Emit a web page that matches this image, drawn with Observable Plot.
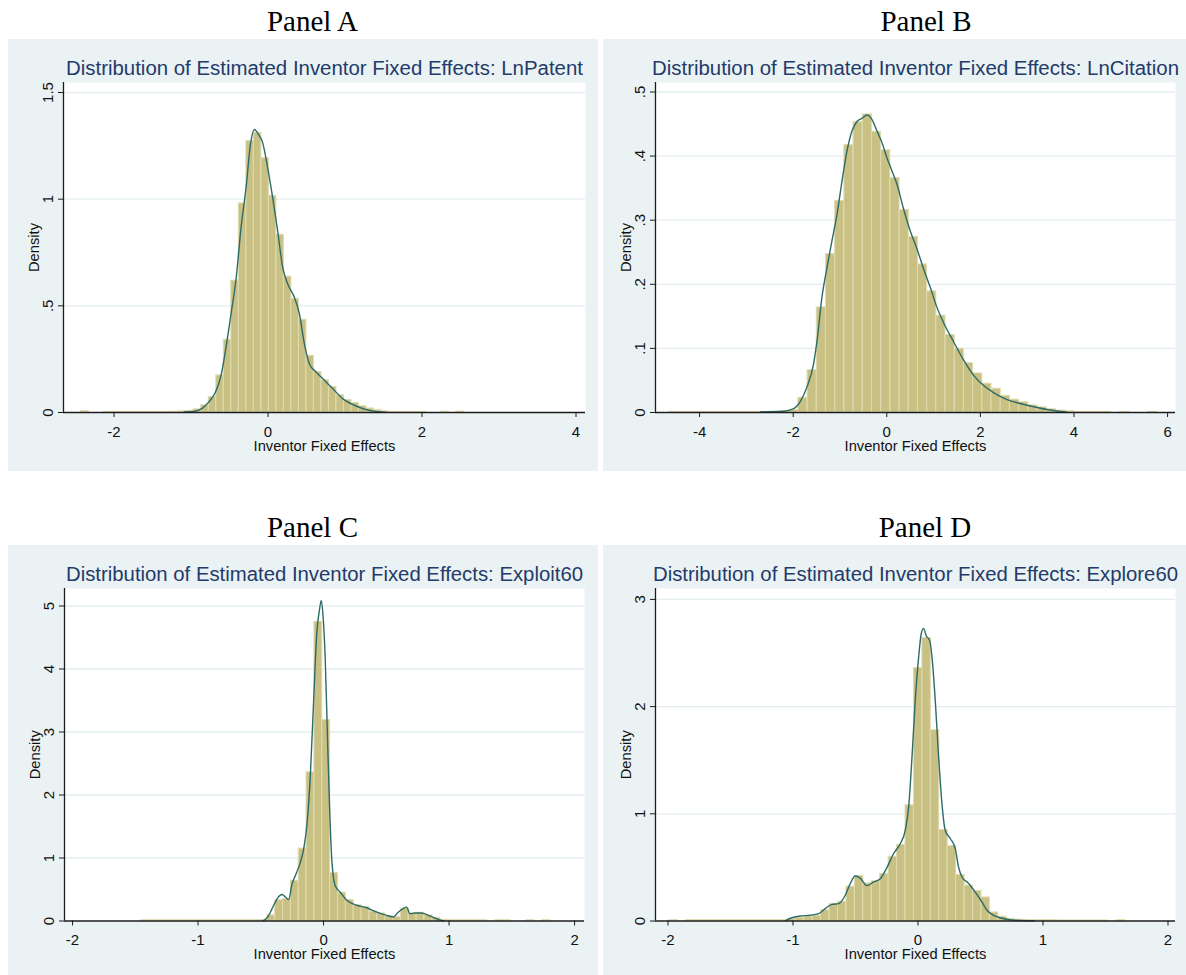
<!DOCTYPE html>
<html><head><meta charset="utf-8">
<script src="https://cdn.jsdelivr.net/npm/d3@7"></script>
<script src="https://cdn.jsdelivr.net/npm/@observablehq/plot@0.6"></script>
<style>
html,body{margin:0;padding:0;background:#fff;}
#root{position:relative;width:1186px;height:975px;overflow:hidden;}
.panel{position:absolute;background:#eaf2f3;}
.panel svg{display:block;overflow:visible;}
#heads{position:absolute;left:0;top:0;}
</style></head><body><div id="root"></div>
<script>
// ---------------- DATA ----------------
const panelHeadings = ["Panel A", "Panel B", "Panel C", "Panel D"];
const chartTitles = [
  "Distribution of Estimated Inventor Fixed Effects: LnPatent",
  "Distribution of Estimated Inventor Fixed Effects: LnCitation",
  "Distribution of Estimated Inventor Fixed Effects: Exploit60",
  "Distribution of Estimated Inventor Fixed Effects: Explore60"
];
const xAxisTitle = "Inventor Fixed Effects";
const yAxisTitle = "Density";

// Panel A: LnPatent
const patentBinStart = -2.4265, patentBinWidth = 0.0975;
const patentHeights = [0.006,0,0,0.003,0.003,0.003,0.003,0.003,0.003,0.003,0.003,0.003,0.004,0.005,0.008,0.015,
  0.034,0.073,0.174,0.341,0.618,0.980,1.273,1.311,1.192,1.016,0.833,0.637,0.533,0.435,0.266,0.190,0.151,0.120,
  0.081,0.058,0.045,0.030,0.019,0.011,0.006,0.003,0.003,0.003,0.003,0.002,0,0,0.004,0,0.004];
const patentCurveX = [-1.09,-0.95,-0.855,-0.768,-0.68,-0.61,-0.545,-0.48,-0.415,-0.35,-0.285,-0.228,-0.176,-0.125,-0.07,-0.005,
  0.06,0.125,0.19,0.255,0.342,0.407,0.472,0.537,0.624,0.732,0.84,0.97,1.12,1.27,1.42,1.52];
const patentCurveY = [0.002,0.006,0.019,0.05,0.097,0.174,0.307,0.463,0.626,0.868,1.055,1.257,1.327,1.304,1.265,1.148,
  1.008,0.852,0.681,0.603,0.540,0.463,0.322,0.229,0.19,0.151,0.112,0.065,0.034,0.014,0.004,0.001];
const patentXTicks = [-2, 0, 2, 4];
const patentYTicks = [0, 0.5, 1, 1.5];

// Panel B: LnCitation
const citationBinStart = -4.64, citationBinWidth = 0.1965;
const citationHeights = [0.001,0.001,0.001,0.001,0.001,0.001,0.001,0.001,0.001,0.001,0.001,0.001,0.002,0.004,
  0.023,0.066,0.164,0.247,0.330,0.417,0.453,0.465,0.438,0.409,0.366,0.316,0.274,0.231,0.189,0.151,0.121,0.0995,
  0.077,0.061,0.045,0.037,0.026,0.020,0.016,0.011,0.008,0.005,0.003,0.002,0.001,0.001,0.001,0.001,0,0.001,0,0,0.001];
const citationCurveX = [-2.70,-2.205,-1.99,-1.85,-1.705,-1.564,-1.49,-1.385,-1.278,-1.171,-1.064,-0.957,-0.85,-0.744,-0.637,
  -0.53,-0.423,-0.316,-0.209,-0.103,0.004,0.11,0.218,0.36,0.502,0.645,0.787,0.93,1.072,1.214,1.43,1.64,1.855,2.07,2.28,
  2.57,2.85,3.14,3.42,3.71,3.85];
const citationCurveY = [0.001,0.002,0.006,0.017,0.04,0.076,0.112,0.18,0.226,0.268,0.309,0.361,0.408,0.439,0.454,
  0.459,0.464,0.457,0.439,0.421,0.397,0.377,0.356,0.317,0.283,0.255,0.224,0.195,0.164,0.140,0.110,0.082,0.058,0.042,0.031,
  0.020,0.014,0.009,0.0046,0.0015,0.0005];
const citationXTicks = [-4, -2, 0, 2, 4, 6];
const citationYTicks = [0, 0.1, 0.2, 0.3, 0.4, 0.5];

// Panel C: Exploit60
const exploitBinStart = -1.45, exploitBinWidth = 0.0626;
const exploitHeights = [0.012,0.012,0.012,0.012,0.012,0.012,0.012,0.012,0.012,0.012,0.012,0.012,0.012,0.012,0.012,0.015,
  0.09,0.33,0.35,0.64,1.15,2.36,4.75,3.19,0.76,0.45,0.33,0.25,0.22,0.15,0.12,0.08,0.06,0.195,0.12,0.13,0.09,0.05,0.02,
  0.012,0.012,0.012,0.012,0.012,0,0.012,0.012,0,0,0.012,0,0.012];
const exploitCurveX = [-0.48,-0.455,-0.437,-0.397,-0.357,-0.33,-0.304,-0.278,-0.251,-0.225,-0.185,-0.156,-0.132,-0.106,
  -0.079,-0.053,-0.034,-0.018,-0.005,0.013,0.032,0.048,0.066,0.093,0.132,0.185,0.265,0.344,0.424,0.503,0.556,0.595,
  0.635,0.662,0.688,0.728,0.781,0.834,0.886,0.94,0.96];
const exploitCurveY = [0.005,0.04,0.09,0.25,0.39,0.42,0.38,0.34,0.59,0.72,0.93,1.17,1.54,2.28,3.50,4.60,4.92,5.09,4.87,
  4.18,2.86,1.81,0.96,0.56,0.46,0.33,0.25,0.21,0.14,0.09,0.063,0.14,0.195,0.22,0.116,0.127,0.127,0.09,0.048,0.01,0.002];
const exploitXTicks = [-2, -1, 0, 1, 2];
const exploitYTicks = [0, 1, 2, 3, 4, 5];

// Panel D: Explore60
const exploreBinStart = -1.99, exploreBinWidth = 0.0675;
const exploreHeights = [0.008,0,0.008,0.008,0.008,0.008,0.008,0.008,0.008,0.008,0.008,0.008,0.008,0.008,
  0.02,0.03,0.04,0.05,0.10,0.16,0.18,0.32,0.42,0.35,0.37,0.44,0.60,0.71,1.08,2.36,2.64,1.78,0.85,0.70,0.43,0.33,
  0.28,0.22,0.08,0.04,0.02,0.012,0.008,0.008,0.008,0.008,0.005,0.005,0.005,0.005,0.005,0.005,0,0.008];
const exploreCurveX = [-1.06,-1.008,-0.942,-0.862,-0.795,-0.742,-0.688,-0.635,-0.582,-0.542,-0.502,-0.462,-0.41,-0.355,
  -0.302,-0.248,-0.195,-0.142,-0.102,-0.075,-0.048,-0.022,0.005,0.026,0.045,0.066,0.093,0.112,0.138,0.165,0.192,0.218,
  0.258,0.298,0.325,0.352,0.405,0.458,0.512,0.552,0.605,0.658,0.75,0.93];
const exploreCurveY = [0.004,0.03,0.047,0.053,0.068,0.115,0.155,0.162,0.24,0.35,0.42,0.40,0.33,0.364,0.395,0.50,0.63,
  0.72,0.845,1.06,1.53,2.06,2.46,2.68,2.73,2.66,2.62,2.46,2.06,1.53,1.09,0.845,0.77,0.675,0.50,0.41,0.35,0.27,0.177,
  0.10,0.053,0.03,0.01,0.002];
const exploreXTicks = [-2, -1, 0, 1, 2];
const exploreYTicks = [0, 1, 2, 3];

// ---------------- LAYOUT / STYLE ----------------
const BG = "#eaf2f3", GRID = "#e4eef0", BAR = "#c9c184", BAR_EDGE = "#e0dbb0",
      LINE = "#2c6b67", AXIS = "#1c1c1c", TXT = "#111", NAVY = "#243a6b";
const SANS = "'Liberation Sans', Arial, Helvetica, sans-serif";

const layouts = [
  {left: 8, top: 39, width: 590, height: 432, ml: 55, mr: 13, mt: 43, mb: 59, xDomain: [-2.656, 4.123], yDomain: [0, 1.547], titleW: 517},
  {left: 603, top: 39, width: 583, height: 432, ml: 52, mr: 11, mt: 43, mb: 59, xDomain: [-4.942, 6.169], yDomain: [0, 0.5148], titleW: 527},
  {left: 8, top: 545, width: 590, height: 430, ml: 56, mr: 14, mt: 43, mb: 54.5, xDomain: [-2.064, 2.079], yDomain: [0, 5.278], titleW: 517},
  {left: 603, top: 545, width: 583, height: 430, ml: 52, mr: 11, mt: 43, mb: 54.5, xDomain: [-2.1, 2.06], yDomain: [0, 3.102], titleW: 525}
];
const headPos = [[312.5, 31], [926, 31], [312.5, 537], [925, 537]];

const series = [
  {lo: patentBinStart, w: patentBinWidth, h: patentHeights, cx: patentCurveX, cy: patentCurveY, xt: patentXTicks, yt: patentYTicks},
  {lo: citationBinStart, w: citationBinWidth, h: citationHeights, cx: citationCurveX, cy: citationCurveY, xt: citationXTicks, yt: citationYTicks},
  {lo: exploitBinStart, w: exploitBinWidth, h: exploitHeights, cx: exploitCurveX, cy: exploitCurveY, xt: exploitXTicks, yt: exploitYTicks},
  {lo: exploreBinStart, w: exploreBinWidth, h: exploreHeights, cx: exploreCurveX, cy: exploreCurveY, xt: exploreXTicks, yt: exploreYTicks}
];

const fmtY = d => d === 0 ? "0" : String(d).replace(/^0\./, ".");
const fmtX = d => String(d);

const root = document.getElementById("root");

series.forEach((s, i) => {
  const L = layouts[i];
  const bins = s.h.map((h, k) => ({x1: s.lo + k * s.w, x2: s.lo + (k + 1) * s.w, h}));
  const curve = s.cx.map((x, k) => ({x, y: s.cy[k]}));
  const yMid = (L.yDomain[0] + L.yDomain[1]) / 2;
  const chart = Plot.plot({
    width: L.width, height: L.height,
    marginLeft: L.ml, marginRight: L.mr, marginTop: L.mt, marginBottom: L.mb,
    x: {domain: L.xDomain, axis: null},
    y: {domain: L.yDomain, axis: null},
    style: {background: "transparent", fontFamily: SANS, overflow: "visible"},
    marks: [
      Plot.frame({fill: "white", stroke: null}),
      Plot.ruleY(s.yt.filter(t => t > 0), {stroke: GRID, strokeWidth: 1.3}),
      Plot.rectY(bins, {x1: "x1", x2: "x2", y1: 0, y2: "h", fill: BAR, stroke: BAR_EDGE, strokeWidth: 1}),
      Plot.line(curve, {x: "x", y: "y", stroke: LINE, strokeWidth: 1.4, curve: "monotone-x"}),
      Plot.ruleY([0], {stroke: AXIS, strokeWidth: 1.3}),
      Plot.ruleX([L.xDomain[0]], {stroke: AXIS, strokeWidth: 1.3}),
      Plot.axisX(s.xt, {tickSize: 5, fill: "none", stroke: AXIS, label: null}),
      Plot.axisY(s.yt, {tickSize: 5, fill: "none", stroke: AXIS, label: null}),
      Plot.text(s.xt, {x: d => d, frameAnchor: "bottom", dy: 24, lineAnchor: "bottom", textAnchor: "middle", text: fmtX, fontSize: 15, fill: TXT}),
      Plot.text(s.yt, {y: d => d, frameAnchor: "left", dx: -11, rotate: -90, lineAnchor: "bottom", textAnchor: "middle", text: fmtY, fontSize: 15, fill: TXT}),
      Plot.text([xAxisTitle], {frameAnchor: "bottom", dy: 38, lineAnchor: "bottom", textAnchor: "middle", fontSize: 14.7, fill: TXT}),
      Plot.text([yMid], {y: d => d, frameAnchor: "left", dx: -25, rotate: -90, lineAnchor: "bottom", textAnchor: "middle", text: () => yAxisTitle, fontSize: 14.7, fill: TXT}),
      Plot.text([chartTitles[i]], {frameAnchor: "top", dy: -8, lineAnchor: "bottom", textAnchor: "middle", fontSize: 20, fill: NAVY})
    ]
  });
  const div = document.createElement("div");
  div.className = "panel";
  div.style.left = L.left + "px"; div.style.top = L.top + "px";
  div.style.width = L.width + "px"; div.style.height = L.height + "px";
  div.appendChild(chart);
  root.appendChild(div);
  // fit the title width to the reference; make sure rotated labels are centred on their anchor
  d3.select(chart).selectAll("text").each(function() {
    if (this.textContent === chartTitles[i]) {
      d3.select(this).attr("textLength", L.titleW).attr("lengthAdjust", "spacingAndGlyphs");
    }
    if (this.textContent === yAxisTitle) d3.select(this).attr("text-anchor", "middle");
  });
});

// panel headings
const heads = d3.select(root).append("svg").attr("id", "heads").attr("width", 1186).attr("height", 975)
  .style("pointer-events", "none");
heads.selectAll("text").data(panelHeadings).join("text")
  .attr("x", (d, i) => headPos[i][0]).attr("y", (d, i) => headPos[i][1])
  .attr("text-anchor", "middle")
  .style("font-family", "'Liberation Serif', 'Times New Roman', serif")
  .style("font-size", "29px").attr("fill", "#000")
  .text(d => d);
</script></body></html>
